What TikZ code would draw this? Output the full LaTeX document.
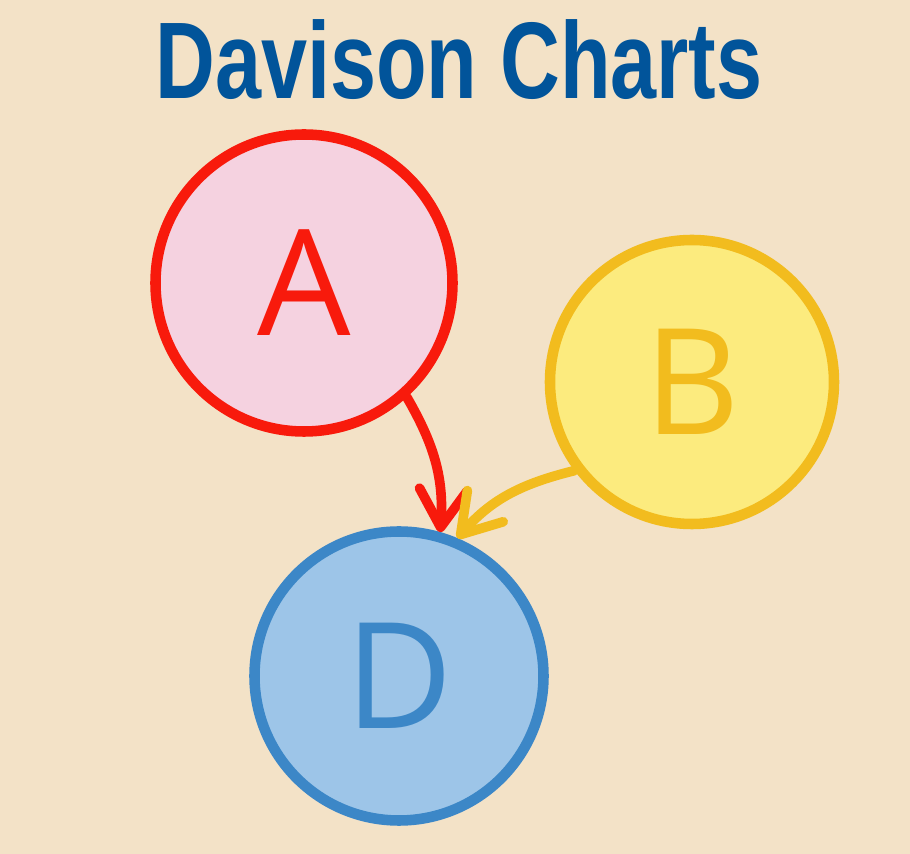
\documentclass[tikz,border=0pt]{standalone}
\usepackage{fontspec}
\usepackage{graphicx}
\setmainfont{Liberation Sans}
\newfontfamily\handfont{Open Sans}
\usetikzlibrary{arrows.meta}
\definecolor{bgcol}{HTML}{F3E2C7}
\definecolor{titleblue}{HTML}{01549A}
\definecolor{redline}{HTML}{F81A0C}
\definecolor{redfill}{HTML}{F5D2E0}
\definecolor{yelline}{HTML}{F2BC1E}
\definecolor{yelfill}{HTML}{FCEB7E}
\definecolor{blueline}{HTML}{3C87C7}
\definecolor{bluefill}{HTML}{9DC5E8}

\begin{document}
\begin{tikzpicture}[
  v/.style={draw, circle, line width=6pt, inner sep=0pt,
    font=\handfont\fontsize{84}{84}\selectfont},
  e/.style={-{Straight Barb[length=7.5mm, width=9.5mm, round]}, line width=5.5pt, line cap=round}
]
\fill[bgcol] (0,0) rectangle (18.2,17.08);
\useasboundingbox (0,0) rectangle (18.2,17.08);

\node[anchor=base, text=titleblue] (title) at (9.18,15.10)
  {\scalebox{0.76}[1]{\fontsize{62}{62}\selectfont\bfseries Davison Charts}};

\node[v, minimum size=5.94cm, draw=redline, fill=redfill, text=redline] (A) at (6.08,11.42) {A};
\node[v, minimum size=5.68cm, draw=yelline, fill=yelfill, text=yelline] (B) at (13.84,9.44) {B};
\node[v, minimum size=5.78cm, draw=blueline, fill=bluefill, text=blueline] (D) at (7.98,3.56) {D};

\draw[e, redline] (A.-48) to[out=-60, in=86] (D.74);
\draw[e, yelline] (B.217) to[out=194, in=49] (D.67);
\end{tikzpicture}
\end{document}
